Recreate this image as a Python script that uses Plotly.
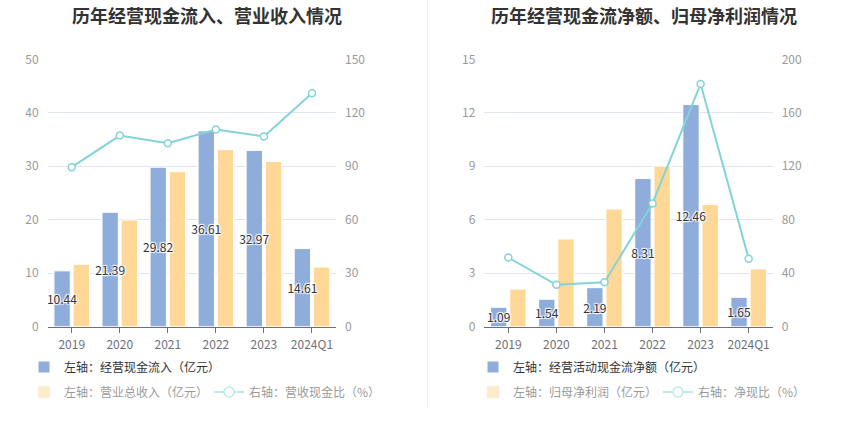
import plotly.graph_objects as go

# ---------------- data ----------------
years = ["2019", "2020", "2021", "2022", "2023", "2024Q1"]

# left chart
cash_inflow = [10.44, 21.39, 29.82, 36.61, 32.97, 14.61]      # 经营现金流入（亿元）
revenue = [11.66, 19.95, 28.99, 33.10, 30.90, 11.16]          # 营业总收入（亿元）
inflow_ratio = [89.5, 107.2, 102.9, 110.6, 106.7, 130.9]      # 营收现金比（%）

# right chart
net_cash = [1.09, 1.54, 2.19, 8.31, 12.46, 1.65]              # 经营活动现金流净额（亿元）
net_profit = [2.11, 4.92, 6.60, 9.01, 6.86, 3.24]             # 归母净利润（亿元）
net_ratio = [51.7, 31.3, 33.2, 92.2, 181.6, 50.9]             # 净现比（%）

left_title = "历年经营现金流入、营业收入情况"
right_title = "历年经营现金流净额、归母净利润情况"

names_left = ["左轴：经营现金流入（亿元）", "左轴：营业总收入（亿元）", "右轴：营收现金比（%）"]
names_right = ["左轴：经营活动现金流净额（亿元）", "左轴：归母净利润（亿元）", "右轴：净现比（%）"]

# ---------------- style ----------------
W, H = 850, 437
FONT = "Noto Sans CJK SC"
BLUE = "#8EADDB"
YELLOW = "#FFD897"
TEAL = "#82D4D7"
GRID = "#E0E6F1"
AXIS = "#6E7079"
SHADOW = "1px 1px 1px #fff, -1px -1px 1px #fff, 1px -1px 1px #fff, -1px 1px 1px #fff"
BAR_W = 0.34
OFF_A = -0.37
OFF_B = 0.03


def px_x(p):
    return p / W


def px_y(p):
    return (H - p) / H


fig = go.Figure()


def add_chart(bars_a, bars_b, ratio, names, xa, ya, ya2, leg):
    # second bar series drawn first so the first series' labels sit on top of it
    fig.add_trace(go.Bar(
        x=years, y=bars_b, name=names[1], xaxis=xa, yaxis=ya,
        width=BAR_W, offset=OFF_B,
        marker=dict(color=YELLOW, line=dict(color="#fff", width=1)),
        showlegend=False, hoverinfo="x+y",
    ))
    fig.add_trace(go.Bar(
        x=years, y=bars_a, name=names[0], xaxis=xa, yaxis=ya,
        width=BAR_W, offset=OFF_A,
        marker=dict(color=BLUE, line=dict(color="#fff", width=1)),
        text=[f"{v:.2f}" for v in bars_a], textposition="inside",
        insidetextanchor="middle", textangle=0, constraintext="none",
        insidetextfont=dict(color="#333", size=12, family=FONT, shadow=SHADOW),
        legend=leg[0], showlegend=True, hoverinfo="x+y",
    ))
    fig.add_trace(go.Scatter(
        x=years, y=ratio, name=names[2], xaxis=xa, yaxis=ya2, mode="lines+markers",
        line=dict(color=TEAL, width=2),
        marker=dict(symbol="circle", size=7, color="#fff", line=dict(color=TEAL, width=1.5)),
        showlegend=False, hoverinfo="x+y",
    ))
    # faded legend entries (as in the reference)
    fig.add_trace(go.Bar(
        x=years, y=bars_b, name=names[1], xaxis=xa, yaxis=ya,
        marker=dict(color=YELLOW), visible="legendonly", legend=leg[1],
    ))
    fig.add_trace(go.Scatter(
        x=years, y=ratio, name=names[2], xaxis=xa, yaxis=ya2, mode="lines+markers",
        line=dict(color=TEAL, width=2),
        marker=dict(symbol="circle", size=10, color="#fff", line=dict(color=TEAL, width=1.5)),
        visible="legendonly", legend=leg[2],
    ))


add_chart(cash_inflow, revenue, inflow_ratio, names_left, "x", "y", "y2",
          ["legend", "legend2", "legend3"])
add_chart(net_cash, net_profit, net_ratio, names_right, "x2", "y3", "y4",
          ["legend4", "legend5", "legend6"])

ydom = [px_y(326.7), px_y(59.3)]
tickfont_y = dict(size=12, color="#999", family=FONT)
tickfont_x = dict(size=12, color=AXIS, family=FONT)

xcommon = dict(type="category", showgrid=False, showline=True, linecolor=AXIS, linewidth=1,
               ticks="outside", ticklen=5, tickcolor=AXIS, tickfont=tickfont_x,
               ticklabelstandoff=2, fixedrange=True, automargin=False)
ycommon = dict(showline=False, zeroline=False, ticks="", tickfont=tickfont_y,
               ticklabelstandoff=8, fixedrange=True, automargin=False)

legend_base = dict(orientation="v", xanchor="left", yanchor="middle",
                   bgcolor="rgba(0,0,0,0)", font=dict(size=12, color="#333", family=FONT),
                   itemclick=False, itemdoubleclick=False)

fig.update_layout(
    width=W, height=H,
    margin=dict(l=0, r=0, t=0, b=0, pad=0, autoexpand=False),
    paper_bgcolor="#fff", plot_bgcolor="#fff",
    font=dict(family=FONT, size=12, color="#333"),
    barmode="group",
    hovermode="x",
    xaxis=dict(domain=[px_x(47.7), px_x(336)], anchor="y", **xcommon),
    yaxis=dict(domain=ydom, anchor="x", range=[0, 50], dtick=10,
               showgrid=True, gridcolor=GRID, gridwidth=1, **ycommon),
    yaxis2=dict(overlaying="y", anchor="x", side="right", range=[0, 150], dtick=30,
                showgrid=False, **ycommon),
    xaxis2=dict(domain=[px_x(484.3), px_x(772.7)], anchor="y3", **xcommon),
    yaxis3=dict(domain=ydom, anchor="x2", range=[0, 15], dtick=3,
                showgrid=True, gridcolor=GRID, gridwidth=1, **ycommon),
    yaxis4=dict(overlaying="y3", anchor="x2", side="right", range=[0, 200], dtick=40,
                showgrid=False, **ycommon),
    legend=dict(x=px_x(24), y=px_y(367), **legend_base),
    legend2=dict(x=px_x(24), y=px_y(392), **legend_base),
    legend3=dict(x=px_x(209), y=px_y(392), **legend_base),
    legend4=dict(x=px_x(473), y=px_y(367), **legend_base),
    legend5=dict(x=px_x(473), y=px_y(392), **legend_base),
    legend6=dict(x=px_x(658), y=px_y(392), **legend_base),
    annotations=[
        dict(text=f"<b>{left_title}</b>", x=px_x(207), y=px_y(15), xref="paper", yref="paper",
             xanchor="center", yanchor="middle", showarrow=False,
             font=dict(size=18, color="#333", family=FONT)),
        dict(text=f"<b>{right_title}</b>", x=px_x(644), y=px_y(15), xref="paper", yref="paper",
             xanchor="center", yanchor="middle", showarrow=False,
             font=dict(size=18, color="#333", family=FONT)),
    ],
    shapes=[
        dict(type="line", xref="paper", yref="paper", x0=px_x(427.5), x1=px_x(427.5),
             y0=px_y(407), y1=1, line=dict(color="#EEEEEE", width=1)),
    ],
)

fig.write_html("out.html", config={"displayModeBar": False},
               post_script="document.body.style.margin='0px';")
